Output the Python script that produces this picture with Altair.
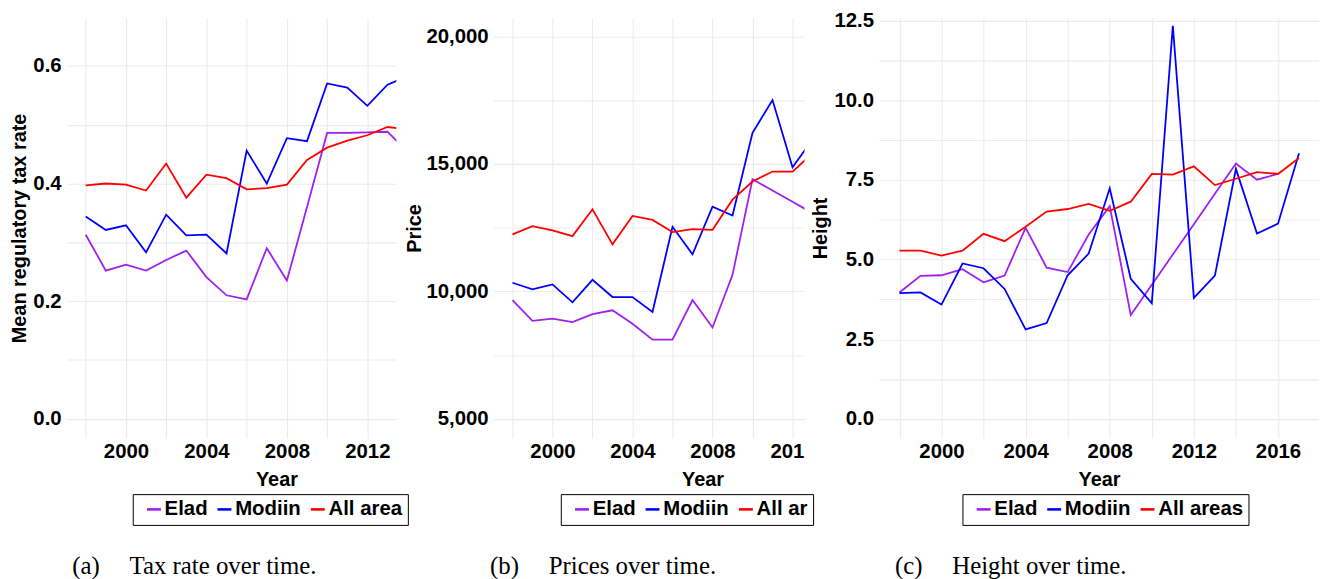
import altair as alt
import pandas as pd

series = ["Elad", "Modiin", "All areas"]
colors = ["#A020F0", "#0000FF", "#FF0000"]

# (a) Tax rate
tax_years = list(range(1998, 2015))
tax_elad = [0.313, 0.252, 0.262, 0.252, 0.270, 0.286, 0.241, 0.210, 0.203, 0.290,
            0.235, 0.360, 0.486, 0.486, 0.487, 0.488, 0.454]
tax_modiin = [0.344, 0.321, 0.329, 0.283, 0.347, 0.312, 0.313, 0.281, 0.456, 0.400,
              0.477, 0.472, 0.570, 0.563, 0.532, 0.568, 0.582]
tax_all = [0.397, 0.400, 0.398, 0.388, 0.434, 0.376, 0.415, 0.409, 0.390, 0.392,
           0.398, 0.440, 0.461, 0.473, 0.482, 0.496, 0.492]

# (b) Prices
price_years = list(range(1998, 2014))
price_elad = [9662, 8844, 8935, 8792, 9104, 9260, 8727, 8104, 8104, 9662,
              8584, 10649, 14403, 13958, 13514, 13069]
price_modiin = [10338, 10078, 10273, 9571, 10455, 9779, 9779, 9195, 12532, 11455,
                13325, 12974, 16221, 17506, 14870, 15950]
price_all = [12234, 12558, 12390, 12169, 13221, 11844, 12961, 12805, 12325, 12442,
             12416, 13597, 14312, 14701, 14701, 15416]

# (c) Height
height_years = list(range(1998, 2018))
height_elad = [3.97, 4.49, 4.51, 4.70, 4.29, 4.50, 6.00, 4.75, 4.61, 5.79,
               6.68, 3.26, 4.21, 5.16, 6.11, 7.07, 8.02, 7.51, 7.69, None]
height_modiin = [3.95, 3.97, 3.59, 4.88, 4.73, 4.08, 2.81, 3.01, 4.51, 5.19,
                 7.24, 4.40, 3.63, 12.34, 3.80, 4.50, 7.85, 5.82, 6.13, 8.34]
height_all = [5.28, 5.28, 5.13, 5.28, 5.81, 5.58, 6.03, 6.51, 6.59, 6.75,
              6.53, 6.82, 7.69, 7.67, 7.93, 7.34, 7.54, 7.75, 7.69, 8.19]

x_grid = list(range(1998, 2018, 2))
tax_grid = [0.0, 0.1, 0.2, 0.3, 0.4, 0.5, 0.6]
price_grid = [5000, 7500, 10000, 12500, 15000, 17500, 20000]
height_grid = [0.0, 1.25, 2.5, 3.75, 5.0, 6.25, 7.5, 8.75, 10.0, 11.25, 12.5]


def long_df(years, vals):
    rows = []
    for name, v in zip(series, vals):
        for yr, val in zip(years, v):
            if val is not None:
                rows.append({"Year": yr, "Value": val, "Series": name})
    return pd.DataFrame(rows)


SANS = "Liberation Sans"
SERIF = "Liberation Serif"

XLAB = "datum.value % 4 == 0 ? '' + datum.value : ''"
XLAB_B = "datum.value % 4 == 0 ? (datum.value == 2012 ? '201' : '' + datum.value) : ''"


def panel(df, xdom, ydom, width, ygrid, ylabel_expr, ytitle, title_x,
          legend_x, legend_expr, caption, caption_dx, ytitle_pad, xlab=XLAB,
          xlab_offset=None):
    xaxis_kw = dict(values=x_grid, labelExpr=xlab, title="Year")
    if title_x is not None:
        xaxis_kw["titleX"] = title_x
    if xlab_offset is not None:
        xaxis_kw["labelOffset"] = xlab_offset
    leg_kw = dict(orient="none", legendX=legend_x, legendY=479.5,
                  direction="horizontal", title=None, strokeColor="black",
                  fillColor="white", padding=5, symbolType="stroke",
                  symbolSize=196, symbolStrokeWidth=2.6, symbolOffset=6.1,
                  labelFont=SANS, labelFontSize=20.5, labelFontWeight="bold",
                  labelColor="black", labelOffset=0.5, columnPadding=-5.4)
    if legend_expr is not None:
        leg_kw["labelExpr"] = legend_expr
    return alt.Chart(df).mark_line(clip=True, strokeWidth=1.8).encode(
        x=alt.X("Year:Q", scale=alt.Scale(domain=xdom, nice=False, zero=False),
                axis=alt.Axis(**xaxis_kw)),
        y=alt.Y("Value:Q", scale=alt.Scale(domain=ydom, nice=False, zero=False),
                axis=alt.Axis(values=ygrid, labelExpr=ylabel_expr, title=ytitle,
                              titlePadding=ytitle_pad)),
        color=alt.Color("Series:N", sort=series,
                        scale=alt.Scale(domain=series, range=colors),
                        legend=alt.Legend(**leg_kw)),
    ).properties(
        width=width, height=423,
        title=alt.TitleParams(text=caption, orient="bottom", anchor="start",
                              frame="group", dx=caption_dx, offset=29,
                              font=SERIF, fontSize=25, fontWeight="normal",
                              color="black", baseline="top"),
    )


def gap(w):
    # empty spacer cell of a given width between two panels
    return alt.Chart(pd.DataFrame({"v": []})).mark_point().encode(
        x=alt.X("v:Q", axis=None)
    ).properties(width=w, height=1)


ca = panel(long_df(tax_years, [tax_elad, tax_modiin, tax_all]),
           [1997.05, 2013.44], [-0.0326, 0.6815], 332, tax_grid,
           "abs(round(datum.value * 10)) % 2 == 0 ? format(datum.value, '.1f') : ''",
           "Mean regulatory tax rate", 211.3, 66.6,
           "datum.label == 'All areas' ? 'All area' : datum.label",
           "(a)\u2003\u2009Tax rate over time.", 5.6, 3)

cb = panel(long_df(price_years, [price_elad, price_modiin, price_all]),
           [1997.06, 2012.6], [4248, 20729], 313, price_grid,
           "datum.value % 5000 == 0 ? format(datum.value, ',') : ''",
           "Price", 210.3, 67.6,
           "datum.label == 'All areas' ? 'All ar' : datum.label",
           "(b)\u2003\u2009Prices over time.", -3.7, 1.5,
           xlab=XLAB_B,
           xlab_offset=alt.ConditionalAxisNumber(
               condition={"test": "datum.value == 2012", "value": -5.7}, value=0))

cc = panel(long_df(height_years, [height_elad, height_modiin, height_all]),
           [1997.03, 2017.95], [-0.6, 12.59], 443, height_grid,
           "round(datum.value * 100) % 250 == 0 ? format(datum.value, '.1f') : ''",
           "Height", None, 84, None,
           "(c)\u2003\u2009Height over time.", 16, 3.5)

chart = alt.hconcat(ca, gap(98), cb, gap(74.3), cc, spacing=0, bounds="flush").resolve_scale(
    x="independent", y="independent", color="independent"
).properties(
    padding={"left": 2, "top": 0, "right": 0, "bottom": 0}
).configure_view(stroke=None).configure_axis(
    grid=True, gridColor="#EBEBEB", gridWidth=1.1, ticks=False, domain=False,
    labelFont=SANS, labelFontWeight="bold", labelColor="black",
    titleFont=SANS, titleFontSize=20, titleFontWeight="bold", titleColor="black",
    labelFlush=False, labelOverlap=False,
).configure_axisX(titlePadding=7, labelFontSize=20.5, labelPadding=4
).configure_axisY(labelFontSize=20.5, labelPadding=5.5)

chart.save("out.html", embed_options={"renderer": "svg", "actions": False})
